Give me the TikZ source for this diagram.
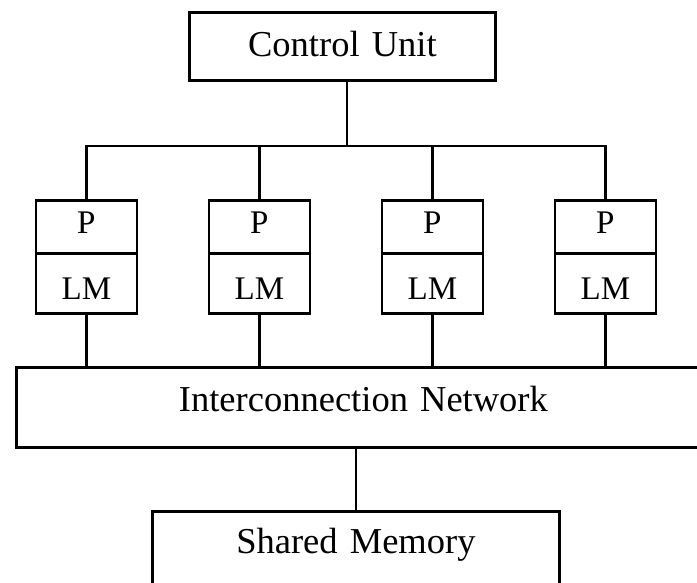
\documentclass[tikz,border=0pt]{standalone}
\usepackage{fontspec}
\setmainfont{Liberation Serif}
\begin{document}
\begin{tikzpicture}[x=1pt,y=-1pt,
  box/.style={draw,line width=2.8pt,rectangle,inner sep=0pt,anchor=north west,align=center,font=\fontsize{36.5}{40}\selectfont},
  small/.style={box,font=\fontsize{33}{36}\selectfont,text width=101pt},
  conn/.style={line width=2.5pt}]
\useasboundingbox (0,0) rectangle (697,582);
\node[box,text width=306pt,text height=44pt,text depth=24pt] (cu) at (188,11) {Control Unit};
\foreach \i/\x in {1/34.5,2/207.5,3/380.5,4/553.5}{
  \node[small,text height=33pt,text depth=20pt] (p\i) at (\x,199) {P};
  \node[small,text height=46pt,text depth=14pt] (lm\i) at (\x,252) {LM};
}
\node[box,text width=694pt,text height=44pt,text depth=36pt] (in) at (15,366) {Interconnection Network};
\node[box,text width=407pt,text height=42pt,text depth=38pt] (sm) at (151,510) {Shared Memory};
\coordinate (bus) at (347,146);
\draw[conn] (cu.south -| bus) -- (bus);
\draw[conn,line cap=rect] (p1.north |- bus) -- (p4.north |- bus);
\foreach \i in {1,...,4}{
  \draw[conn] (p\i.north) -- (p\i.north |- bus);
  \draw[conn] (lm\i.south) -- (lm\i.south |- in.north);
}
\draw[conn] (sm.north) -- (sm.north |- in.south);
\end{tikzpicture}
\end{document}
